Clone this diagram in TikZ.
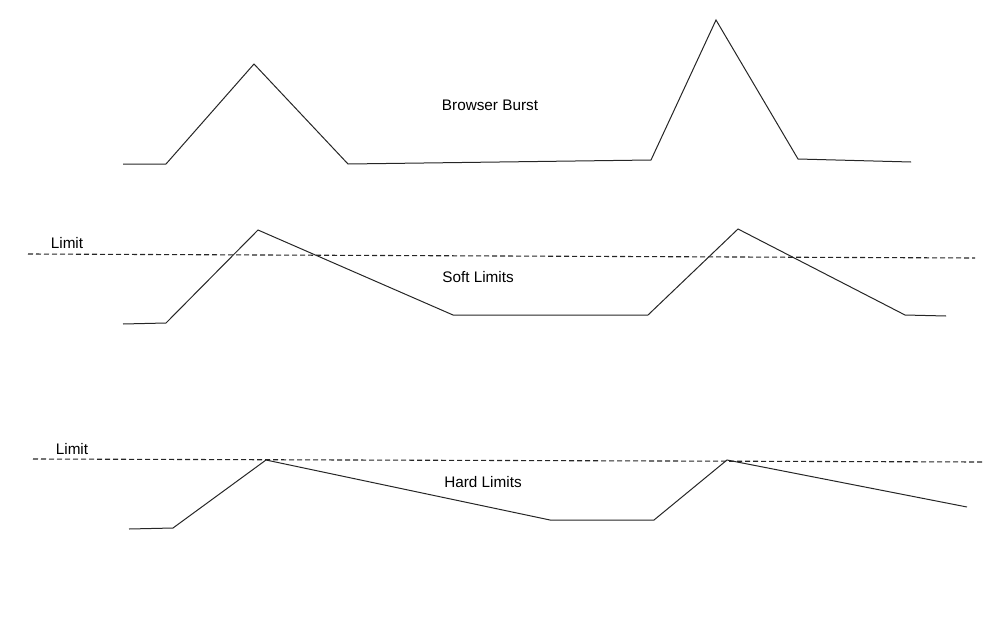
\documentclass[tikz,border=0pt]{standalone}
\usepackage{fontspec}
\setmainfont{Liberation Sans}
\begin{document}
\begin{tikzpicture}[x=1pt,y=-1pt,
  curve/.style={line width=1pt,line join=miter,black!85},
  limitline/.style={line width=1.1pt,dash pattern=on 5pt off 3pt,black!85},
  lbl/.style={font=\fontsize{15.3}{18}\selectfont,inner sep=0pt}]
\useasboundingbox (0,0) rectangle (1000,618);
% Browser Burst
\draw[curve] (123,164) -- (166,164) -- (254,64) -- (348,164) -- (651,160) -- (716,20) -- (798,159) -- (911,162);
\node[lbl] (bb) at (490,105) {Browser Burst};
% Soft Limits
\draw[limitline] (28,254) -- (975,258);
\node[lbl] (l1) at (67,243) {Limit};
\draw[curve] (123,324) -- (166,323) -- (258,230) -- (453,315) -- (648,315) -- (738,229) -- (905,315) -- (946,316);
\node[lbl] (sl) at (478,277) {Soft Limits};
% Hard Limits
\draw[limitline] (33,459) -- (982,462);
\node[lbl] (l2) at (72,449) {Limit};
\draw[curve] (129,529) -- (173,528) -- (266,460) -- (550,520) -- (654,520) -- (727,460) -- (967,507);
\node[lbl] (hl) at (483,482) {Hard Limits};
\end{tikzpicture}
\end{document}
